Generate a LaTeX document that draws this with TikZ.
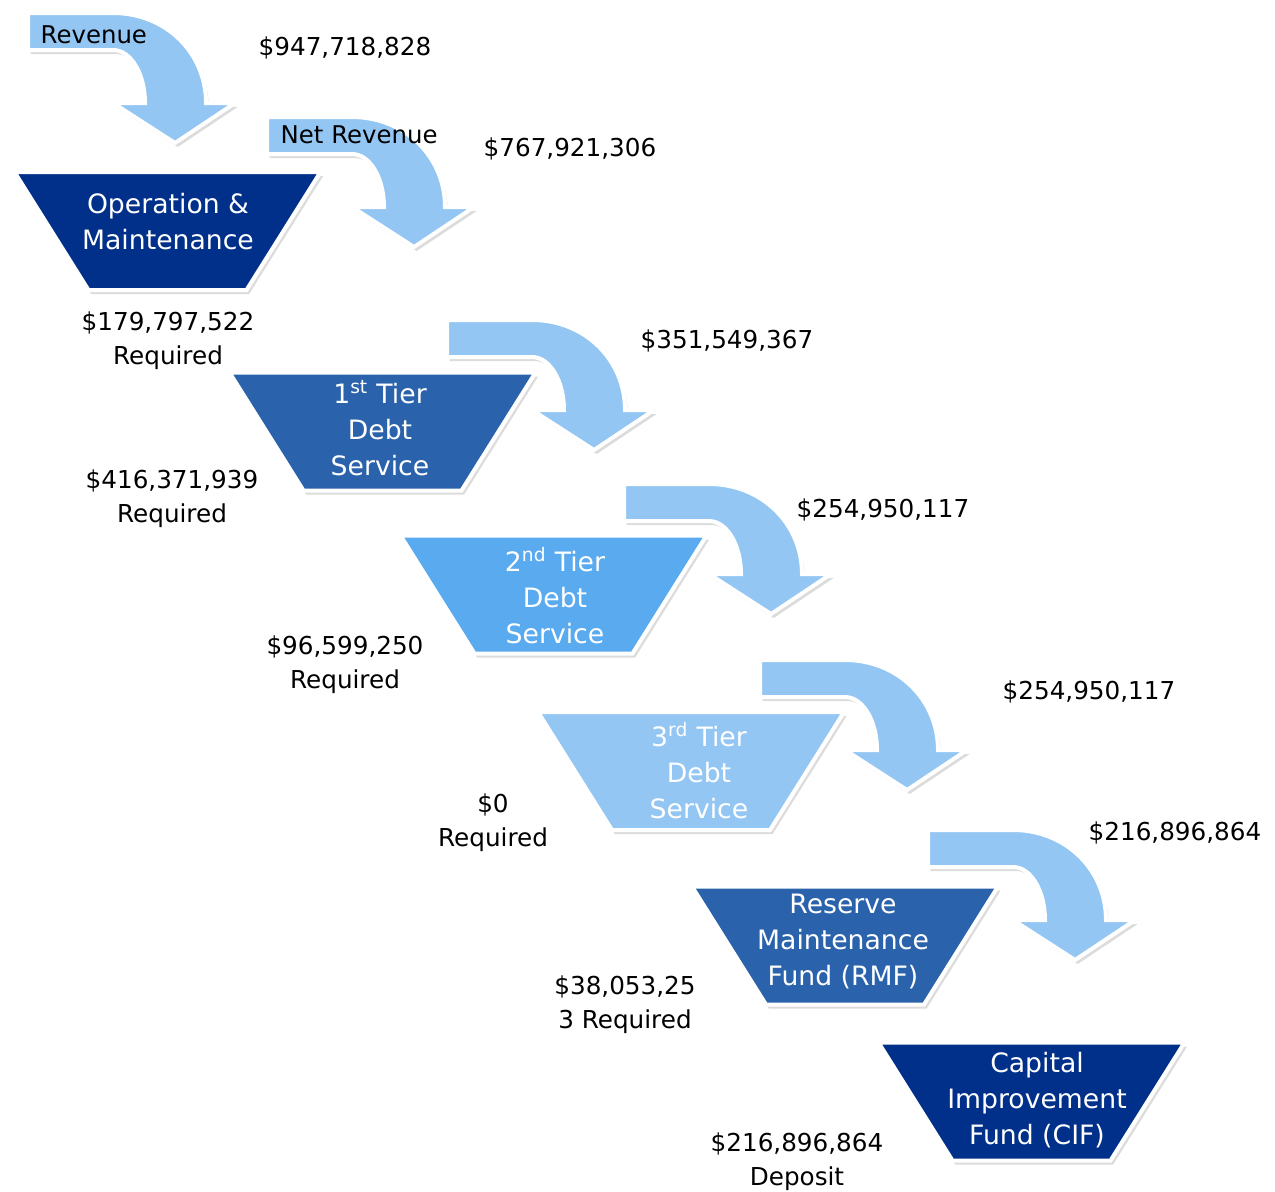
\documentclass[tikz,border=0pt]{standalone}
\usepackage{fontspec}
\setmainfont{DejaVu Sans}
\usetikzlibrary{shadows}
\definecolor{NavyBlue}{RGB}{0,48,138}
\definecolor{TierBlue}{RGB}{42,98,172}
\definecolor{SkyBlue}{RGB}{90,170,240}
\definecolor{PaleBlue}{RGB}{148,198,244}

\tikzset{
  softshadow/.style={drop shadow={shadow xshift=2pt, shadow yshift=-3pt, opacity=0.28}},
  pics/bentarrow/.style={code={
    \fill[PaleBlue, draw=white, line width=3pt, line join=miter, softshadow]
      (0,0) -- (85,0) .. controls (138,0) and (178,40) .. (178,90)
      -- (207,90) -- (147,130) -- (85,90) -- (117,90)
      .. controls (117,61) and (103,37) .. (85,37) -- (0,37) -- cycle;
  }},
  pics/fundshape/.style={code={
    \fill[#1, draw=white, line width=3pt, line join=miter, softshadow]
      (-153,-59) -- (153,-59) -- (79,59) -- (-79,59) -- cycle;
  }}
}

\begin{document}
\begin{tikzpicture}[x=0.75pt, y=-0.75pt,
    fundtext/.style={text=white, font=\fontsize{20}{27}\selectfont, align=center},
    amount/.style={font=\fontsize{18.5}{25.5}\selectfont, align=center},
    flowlabel/.style={font=\fontsize{18.3}{22}\selectfont, anchor=west}
  ]
  \useasboundingbox (0,0) rectangle (1275,1192);

  % flow arrows
  \pic (revarrow) at (28,13) {bentarrow};
  \pic (netarrow) at (267,117) {bentarrow};
  \pic (onearrow) at (447,320) {bentarrow};
  \pic (twoarrow) at (624,484) {bentarrow};
  \pic (threearrow) at (760,660) {bentarrow};
  \pic (rmfarrow) at (928,830) {bentarrow};

  \node (revlabel) [flowlabel] at (36,35) {Revenue};
  \node (netlabel) [flowlabel] at (276,135) {Net Revenue};

  % funds
  \pic (omshape) at (167.5,231) {fundshape=NavyBlue};
  \pic (oneshape) at (382.5,431.5) {fundshape=TierBlue};
  \pic (twoshape) at (553.5,594.5) {fundshape=SkyBlue};
  \pic (threeshape) at (691,771) {fundshape=PaleBlue};
  \pic (rmfshape) at (845,945.5) {fundshape=TierBlue};
  \pic (cifshape) at (1031.5,1101.5) {fundshape=NavyBlue};

  \node (om) [fundtext] at (168,222) {Operation \&\\Maintenance};
  \node (tierone) [fundtext] at (380,428) {1\textsuperscript{st} Tier\\Debt\\Service};
  \node (tiertwo) [fundtext] at (555,596) {2\textsuperscript{nd} Tier\\Debt\\Service};
  \node (tierthree) [fundtext] at (699,771) {3\textsuperscript{rd} Tier\\Debt\\Service};
  \node (rmf) [fundtext] at (843,942) {Reserve\\Maintenance\\Fund (RMF)};
  \node (cif) [fundtext] at (1037,1100) {Capital\\Improvement\\Fund (CIF)};

  % amounts
  \node (revamt) [amount] at (345,48) {\$947,718,828};
  \node (netamt) [amount] at (570,149) {\$767,921,306};
  \node (omreq) [amount] at (168,341) {\$179,797,522\\Required};
  \node (oneout) [amount] at (727,341) {\$351,549,367};
  \node (onereq) [amount] at (172,498.5) {\$416,371,939\\Required};
  \node (twoout) [amount] at (883,510) {\$254,950,117};
  \node (tworeq) [amount] at (345,664.5) {\$96,599,250\\Required};
  \node (threeout) [amount] at (1089,692) {\$254,950,117};
  \node (threereq) [amount] at (493,823) {\$0\\Required};
  \node (rmfout) [amount] at (1175,833) {\$216,896,864};
  \node (rmfreq) [amount] at (625,1004.5) {\$38,053,25\\3 Required};
  \node (cifdep) [amount] at (797,1161.5) {\$216,896,864\\Deposit};
\end{tikzpicture}
\end{document}
